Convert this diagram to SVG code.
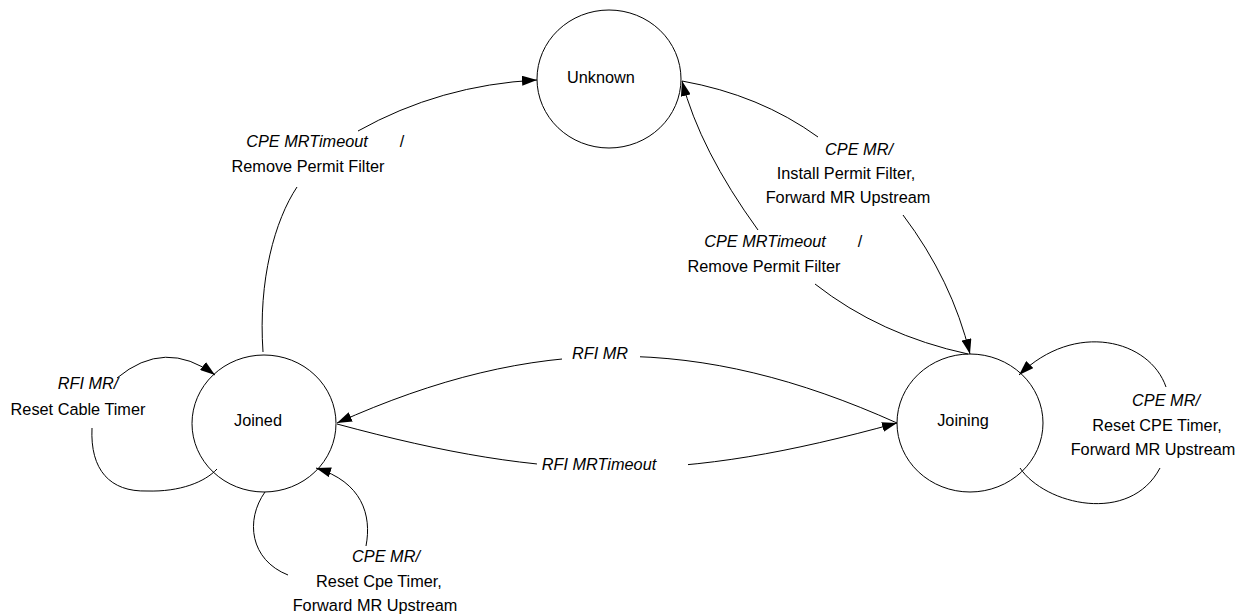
<svg xmlns="http://www.w3.org/2000/svg" width="1239" height="615" viewBox="0 0 1239 615">
<style>
text{font-family:"Liberation Sans",Arial,sans-serif;font-size:16.3px;fill:#000;text-anchor:middle}
.ev{font-style:italic}
.node{fill:#fff;stroke:#000;stroke-width:1}
.edge{fill:none;stroke:#000;stroke-width:1}
.arr{marker-end:url(#ah)}
</style>
<defs>
<marker id="ah" markerUnits="userSpaceOnUse" markerWidth="16" markerHeight="10" refX="15" refY="5" orient="auto">
<path d="M0,0 L15,5 L0,10 z" fill="#000"/>
</marker>
</defs>
<rect width="1239" height="615" fill="#fff"/>
<g id="nodes">
<g id="unknown"><ellipse class="node" cx="609" cy="79" rx="72" ry="69"/><text x="601" y="83">Unknown</text></g>
<g id="joined"><ellipse class="node" cx="264" cy="423.5" rx="72" ry="68.5"/><text x="258" y="426">Joined</text></g>
<g id="joining"><ellipse class="node" cx="970" cy="423" rx="73" ry="69"/><text x="963" y="426">Joining</text></g>
</g>
<g id="connectors">
<path class="edge" d="M263,352 C258,280 275,220 297,187"/>
<path class="edge arr" d="M358,131 Q440,85 537,80"/>
<path class="edge" d="M682,81 Q760,95 818,137"/>
<path class="edge arr" d="M903,215 Q952,280 970,354"/>
<path class="edge" d="M815,284 Q880,335 968,354"/>
<path class="edge arr" d="M758,230 Q700,150 682,81"/>
<path class="edge arr" d="M897,423 C699,334 535,334 337,423"/>
<path class="edge arr" d="M337,424 C555,483 679,483 897,423"/>
<path class="edge arr" d="M117,378 Q165,338 215,375"/>
<path class="edge" d="M92,428 C90,470 110,492 147,491 C180,492 205,482 217,469"/>
<path class="edge" d="M265,492 C245,520 250,560 288,575"/>
<path class="edge arr" d="M366,546 C372,515 362,482 316,468"/>
<path class="edge arr" d="M1166,387 C1150,340 1075,320 1019,375"/>
<path class="edge" d="M1020,468 C1045,505 1130,525 1160,468"/>
</g>
<g id="labels">
<text class="ev" x="307" y="147">CPE MRTimeout</text><text x="402" y="147">/</text>
<text x="308" y="172">Remove Permit Filter</text>
<text class="ev" x="765" y="247">CPE MRTimeout</text><text x="860" y="247">/</text>
<text x="764" y="272">Remove Permit Filter</text>
<text class="ev" x="859" y="155">CPE MR/</text>
<text x="846" y="179">Install Permit Filter,</text>
<text x="848" y="203">Forward MR Upstream</text>
<rect x="562" y="343" width="78" height="20" fill="#fff"/>
<text class="ev" x="600" y="359">RFI MR</text>
<rect x="537" y="454" width="151" height="22" fill="#fff"/>
<text class="ev" x="599" y="470">RFI MRTimeout</text>
<text class="ev" x="88" y="389">RFI MR/</text>
<text x="78" y="415">Reset Cable Timer</text>
<text class="ev" x="386" y="562">CPE MR/</text>
<text x="379" y="587">Reset Cpe Timer,</text>
<text x="375" y="611">Forward MR Upstream</text>
<text class="ev" x="1166" y="406">CPE MR/</text>
<text x="1157" y="431">Reset CPE Timer,</text>
<text x="1153" y="455">Forward MR Upstream</text>
</g>
</svg>
